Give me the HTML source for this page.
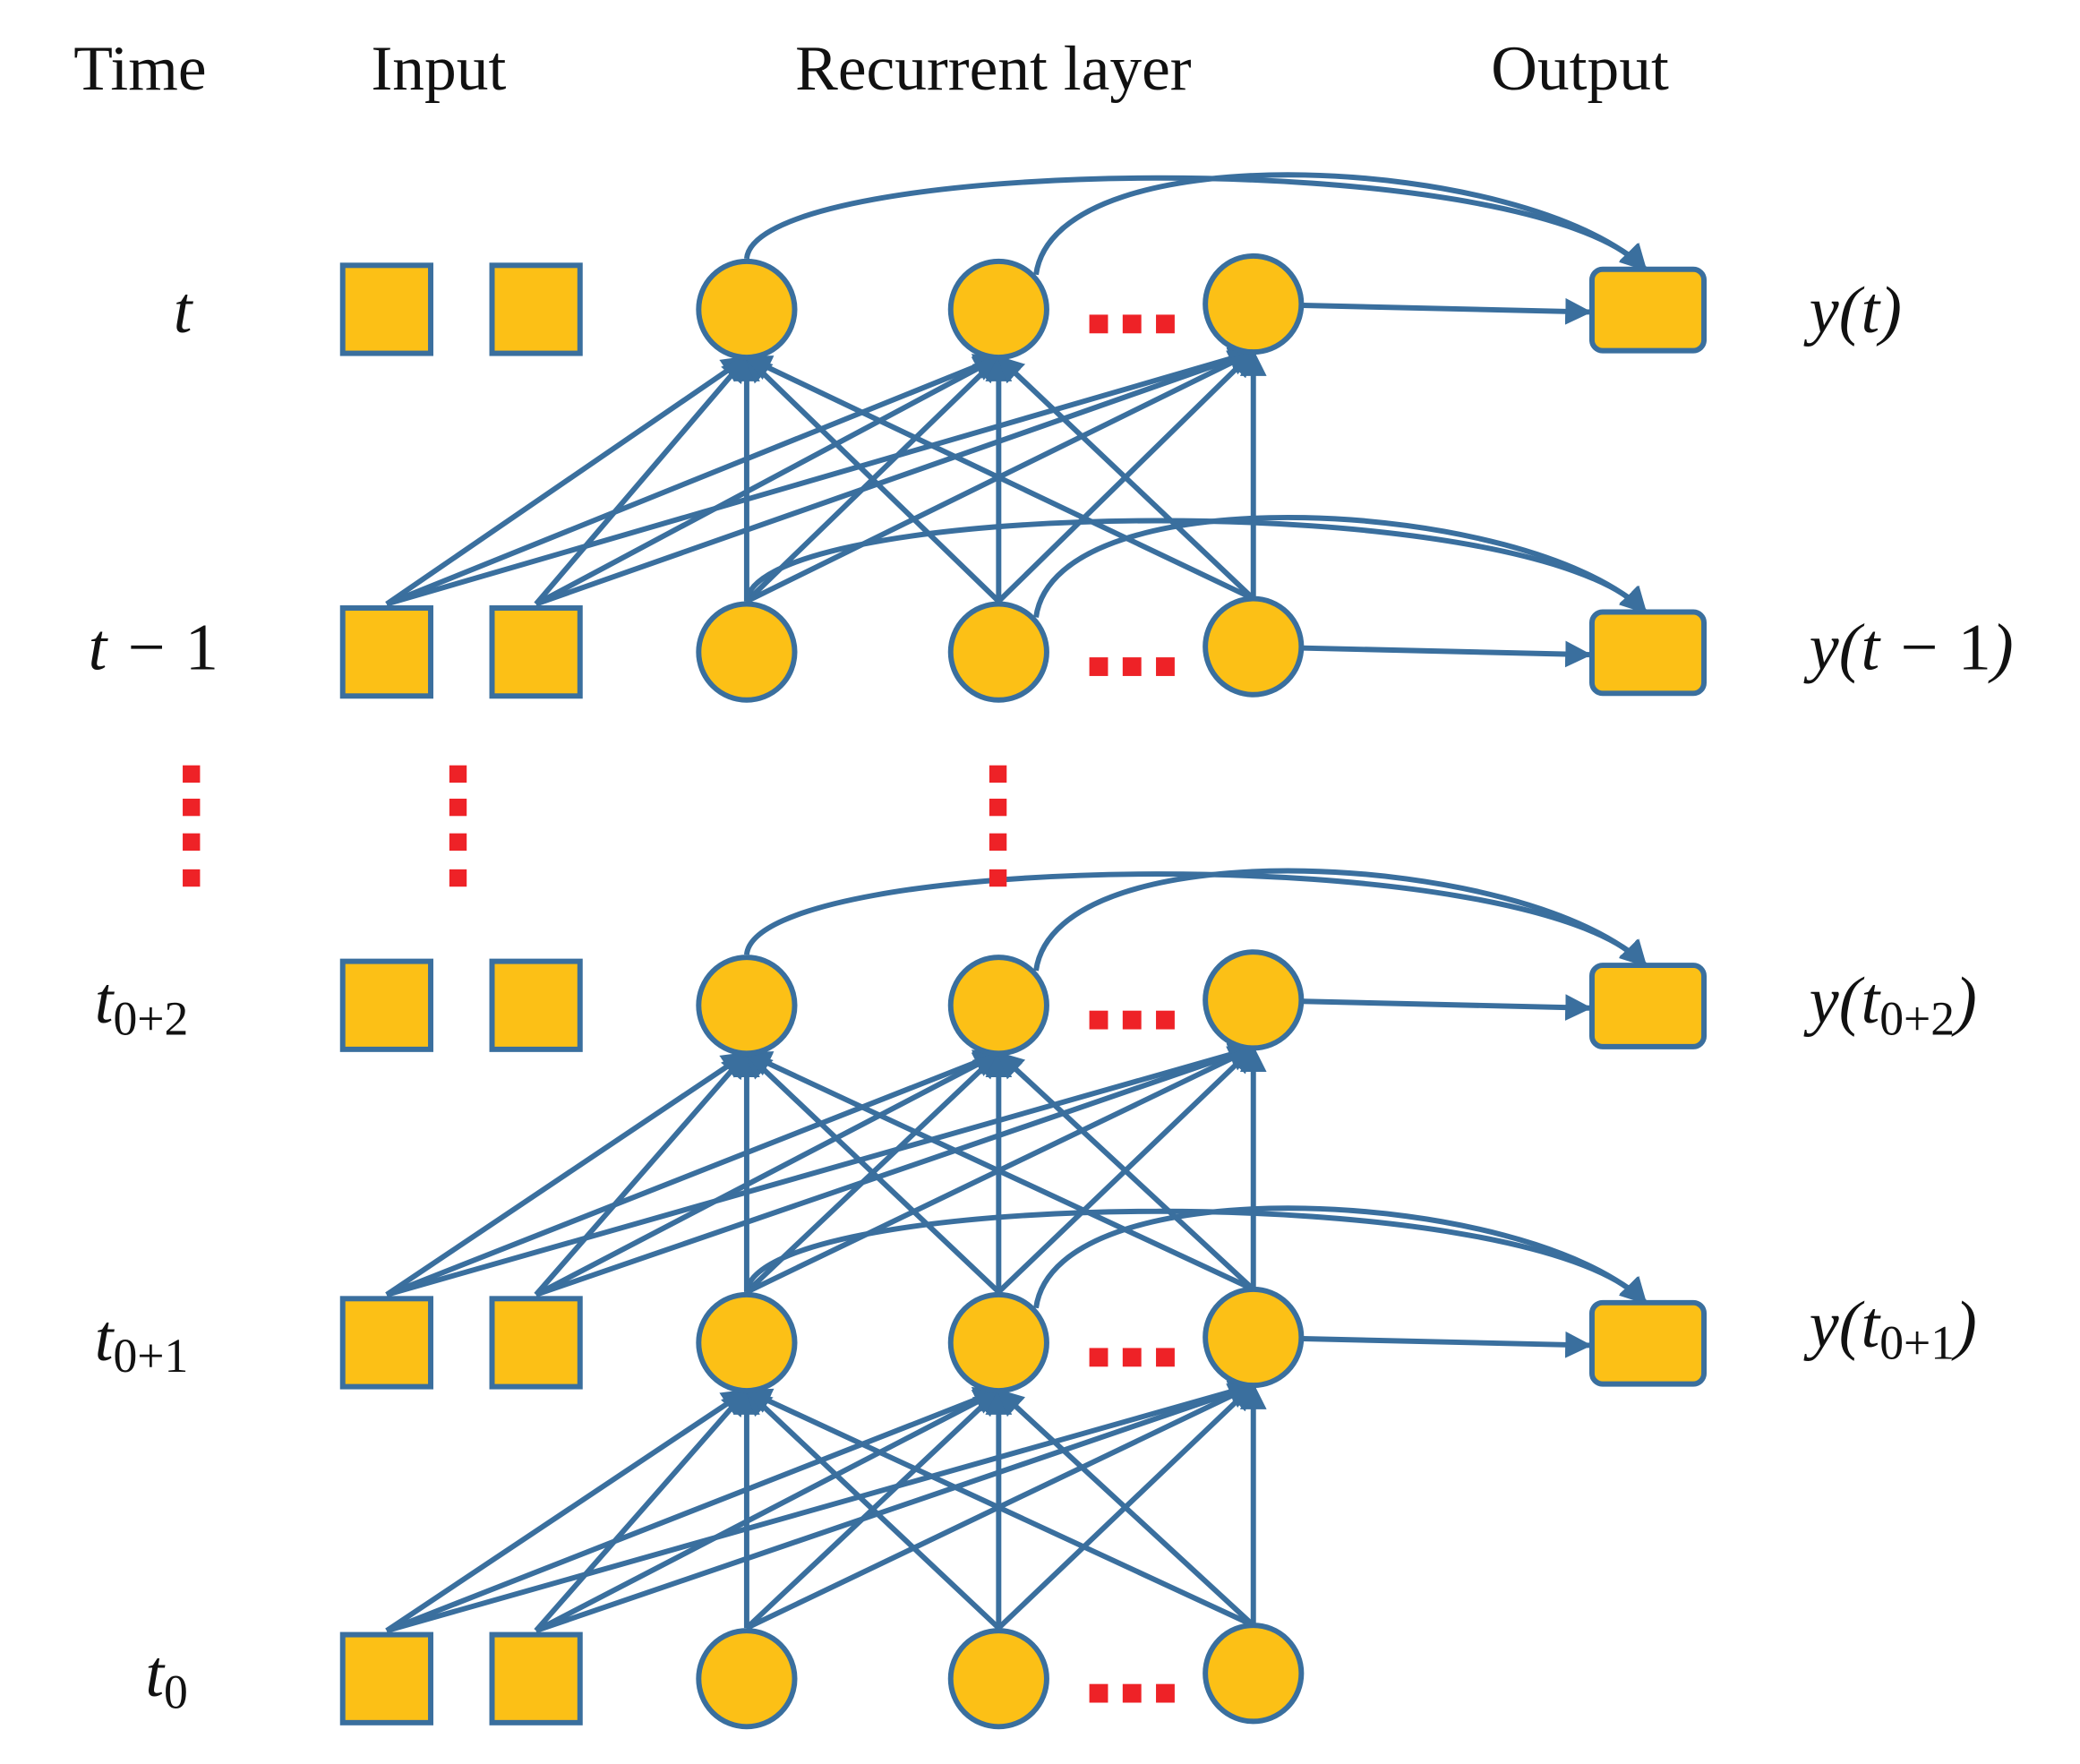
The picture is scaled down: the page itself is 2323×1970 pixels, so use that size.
<!DOCTYPE html>
<html><head><meta charset="utf-8"><style>
html,body{margin:0;padding:0;background:#fff}
svg{display:block}
</style></head><body>
<svg width="2323" height="1970" viewBox="0 0 1560 1323" xmlns="http://www.w3.org/2000/svg">
<defs>
<marker id="a" viewBox="0 0 10 10" refX="9" refY="5" markerWidth="5" markerHeight="5" orient="auto" markerUnits="strokeWidth">
<path d="M0,0 L10,5 L0,10 z" fill="#3a6f9e"/></marker>
</defs>
<g transform="translate(-3,-3)">
<g font-family="Liberation Serif, serif" font-size="48" fill="#111">
<text x="108" y="70" text-anchor="middle">Time</text>
<text x="332" y="70" text-anchor="middle">Input</text>
<text x="748" y="70" text-anchor="middle">Recurrent layer</text>
<text x="1188" y="70" text-anchor="middle">Output</text>
</g>
<g font-family="Liberation Serif, serif" font-style="italic" font-size="50" fill="#111">
<text x="140" y="252" text-anchor="middle">t</text>
<text x="118" y="505" text-anchor="middle">t − <tspan font-style="normal">1</tspan></text>
<text x="74" y="770">t<tspan font-size="36" font-style="normal" dy="9">0+2</tspan></text>
<text x="74" y="1023">t<tspan font-size="36" font-style="normal" dy="9">0+1</tspan></text>
<text x="112" y="1275">t<tspan font-size="36" font-style="normal" dy="9">0</tspan></text>
<text x="1360" y="252">y(t)</text>
<text x="1360" y="505">y(t − <tspan font-style="normal">1</tspan>)</text>
<text x="1360" y="770">y(t<tspan font-size="36" font-style="normal" dy="9">0+2</tspan><tspan dy="-9">)</tspan></text>
<text x="1360" y="1013">y(t<tspan font-size="36" font-style="normal" dy="9">0+1</tspan><tspan dy="-9">)</tspan></text>
</g>
<g id="edges" stroke="#3a6f9e" stroke-width="4" fill="none"></g>
<g id="nodes"></g>
<g fill="#ee2227">
<rect x="140" y="577" width="13" height="13"/><rect x="140" y="602" width="13" height="13"/><rect x="140" y="628" width="13" height="13"/><rect x="140" y="655" width="13" height="13"/>
<rect x="340" y="577" width="13" height="13"/><rect x="340" y="602" width="13" height="13"/><rect x="340" y="628" width="13" height="13"/><rect x="340" y="655" width="13" height="13"/>
<rect x="745" y="577" width="13" height="13"/><rect x="745" y="602" width="13" height="13"/><rect x="745" y="628" width="13" height="13"/><rect x="745" y="655" width="13" height="13"/>
</g>
</g>
<script>
var NS="http://www.w3.org/2000/svg";
var E=document.getElementById("edges"),N=document.getElementById("nodes");
function el(p,t,a){var e=document.createElementNS(NS,t);for(var k in a)e.setAttribute(k,a[k]);p.appendChild(e);return e;}
var rows=[235,492,757,1010,1262];
var cx=[563,752,943];
var ix=[293,405];
var C="#3a6f9e",F="#fcc016";
[[1,0],[3,2],[4,3]].forEach(function(p){
 var yl=rows[p[0]],yu=rows[p[1]];
 var srcs=[[ix[0],yl-36],[ix[1],yl-36],[cx[0],yl-38],[cx[1],yl-38],[cx[2],yl-40]];
 cx.forEach(function(tx,j){
  srcs.forEach(function(s){
   el(E,"line",{x1:s[0],y1:s[1],x2:tx,y2:yu+36-(j==2?4:0),"marker-end":"url(#a)"});
  });
 });
});
[0,1,2,3].forEach(function(r){
 var y=rows[r];var oy=y-30;
 el(E,"path",{d:"M"+cx[0]+","+(y-38)+" C570,"+(y-115)+" 1150,"+(y-125)+" 1237,"+oy,"marker-end":"url(#a)"});
 el(E,"path",{d:"M780,"+(y-26)+" C795,"+(y-135)+" 1150,"+(y-115)+" 1237,"+oy,"marker-end":"url(#a)"});
 el(E,"line",{x1:980,y1:y-3,x2:1195,y2:y+2,"marker-end":"url(#a)"});
});
rows.forEach(function(y,r){
 ix.forEach(function(x){el(N,"rect",{x:x-33,y:y-33,width:66,height:66,fill:F,stroke:C,"stroke-width":4});});
 cx.forEach(function(x,j){el(N,"circle",{cx:x,cy:y-(j==2?4:0),r:36,fill:F,stroke:C,"stroke-width":4});});
 var ry=y+5;
 [820,845,870].forEach(function(x){el(N,"rect",{x:x,y:ry-1,width:14,height:14,fill:"#ee2227"});});
 if(r<4) el(N,"rect",{x:1197,y:y-30,width:84,height:61,rx:8,fill:F,stroke:C,"stroke-width":4});
});
</script>
</svg>
</body></html>
